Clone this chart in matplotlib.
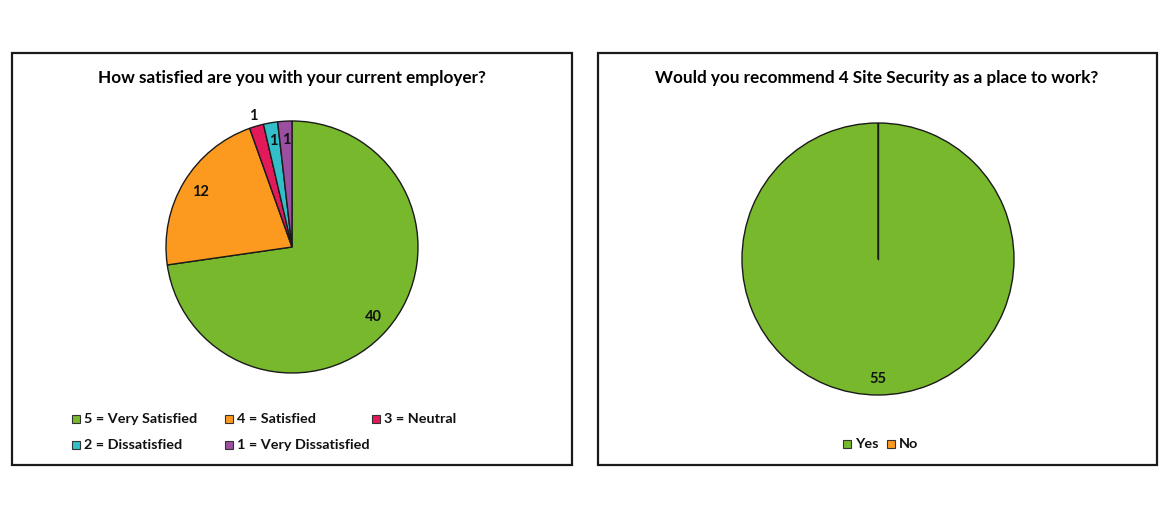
"""Two survey pie charts side by side, Excel-style panels."""

import matplotlib

matplotlib.use("Agg")
import matplotlib.pyplot as plt  # noqa: E402
import numpy as np  # noqa: E402
from matplotlib.patches import Rectangle  # noqa: E402

plt.rcParams["font.family"] = ["Lato", "DejaVu Sans"]
plt.rcParams["font.weight"] = "bold"

W, H = 1170, 519

# survey data
sat_labels = ["5 = Very Satisfied", "4 = Satisfied", "3 = Neutral",
              "2 = Dissatisfied", "1 = Very Dissatisfied"]
sat_counts = [40, 12, 1, 1, 1]
sat_colors = ["#78b82c", "#fb9a1e", "#e3195a", "#33bfca", "#9b4fa0"]

rec_labels = ["Yes", "No"]
rec_counts = [55, 0]
rec_colors = ["#78b82c", "#fb9a1e"]

fig = plt.figure(figsize=(W / 100, H / 100), dpi=100)


def px_box(x0, y0, x1, y1):
    """pixel box (top-left origin) -> figure fraction rect"""
    return [x0 / W, 1 - y1 / H, (x1 - x0) / W, (y1 - y0) / H]


def panel(x0, y0, x1, y1):
    l, b, w, h = px_box(x0, y0, x1, y1)
    fig.patches.append(Rectangle((l, b), w, h, transform=fig.transFigure,
                                 fill=False, edgecolor="#1a1a1a", lw=1.6))


def pie_axes(cx, cy, r):
    ax = fig.add_axes(px_box(cx - r, cy - r, cx + r, cy + r))
    ax.axis("off")
    return ax


def draw_pie(ax, counts, colors):
    wedges, _ = ax.pie(counts, colors=colors, startangle=90, counterclock=False,
                       radius=1, wedgeprops=dict(edgecolor="#1a1a1a", linewidth=1.0))
    ax.set_xlim(-1, 1)
    ax.set_ylim(-1, 1)
    ax.set_aspect("equal")
    return wedges


def label_wedges(ax, wedges, counts, dist, outside=None):
    outside = outside or {}
    for i, (w, c) in enumerate(zip(wedges, counts)):
        if c == 0:
            continue
        ang = np.deg2rad((w.theta1 + w.theta2) / 2)
        d = outside.get(i, dist)
        ax.text(d * np.cos(ang), d * np.sin(ang), str(c), ha="center", va="center",
                fontsize=10.5, fontweight="bold", color="#111111")


def legend_entry(x, y, color, text):
    """Excel-like legend key: small square + label, x/y in pixels"""
    s = 8
    l, b, w, h = px_box(x, y - s / 2, x + s, y + s / 2)
    fig.patches.append(Rectangle((l, b), w, h, transform=fig.transFigure,
                                 facecolor=color, edgecolor="#333333", lw=0.8))
    fig.text((x + s + 4) / W, 1 - y / H, text, ha="left", va="center",
             fontsize=10.4, fontweight="bold", color="#111111")


# left panel
panel(12, 53, 572, 465)
fig.text(292 / W, 1 - 78 / H, "How satisfied are you with your current employer?",
         ha="center", va="center", fontsize=12.3, fontweight="bold")
ax1 = pie_axes(292, 247, 126)
w1 = draw_pie(ax1, sat_counts, sat_colors)
label_wedges(ax1, w1, sat_counts, 0.85, outside={2: 1.08})
sat_slots = [(72, 419), (225, 419), (372, 419), (72, 445), (225, 445)]
for (x, y), c, t in zip(sat_slots, sat_colors, sat_labels):
    legend_entry(x, y, c, t)

# right panel
panel(598, 53, 1157, 465)
fig.text(877 / W, 1 - 78 / H, "Would you recommend 4 Site Security as a place to work?",
         ha="center", va="center", fontsize=12.3, fontweight="bold")
ax2 = pie_axes(878, 259, 136)
w2 = draw_pie(ax2, rec_counts, rec_colors)
# the empty "No" slice still leaves its spoke from the centre to the top
ax2.plot([0, 0], [0, 1], color="#1a1a1a", lw=1.0)
label_wedges(ax2, w2, rec_counts, 0.88)
rec_slots = [(843, 444), (887, 444)]
for (x, y), c, t in zip(rec_slots, rec_colors, rec_labels):
    legend_entry(x, y, c, t)

fig.savefig("out.png", dpi=100)
